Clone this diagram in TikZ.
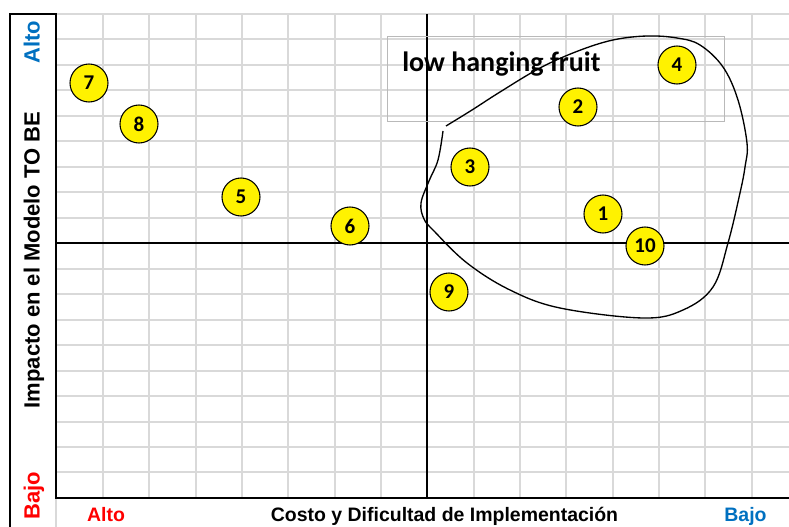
\documentclass[tikz,border=0pt]{standalone}
\usepackage{fontspec}
\setmainfont{Liberation Sans}
\newfontfamily\calib{Carlito}
\definecolor{excelblue}{RGB}{0,112,192}
\definecolor{gridgray}{RGB}{217,217,217}

\begin{document}
\begin{tikzpicture}[
    x=0.75pt, y=-0.75pt,
    item node/.style={circle, draw=black, fill=yellow, line width=0.8pt, inner sep=0pt, minimum size=28.5pt, font=\calib\bfseries\fontsize{15.75}{16}\selectfont},
    grid line/.style={line width=1.5pt, draw=gridgray},
    axis line/.style={line width=1.5pt, draw=black},
    frame line/.style={line width=2pt, draw=black},
    side label/.style={font=\bfseries\fontsize{16.5}{18}\selectfont, rotate=90, anchor=base, inner sep=0pt},
    foot label/.style={font=\bfseries\fontsize{14.6}{16}\selectfont, anchor=base, inner sep=0pt}
]
\useasboundingbox (0,0) rectangle (789,527);

% 网格
\foreach \k in {0,...,14} \draw[grid line] ({103+46.34*\k},14) -- ({103+46.34*\k},498);
\foreach \k in {0,...,19} \draw[grid line] (56,{14+25.47*\k}) -- (789,{14+25.47*\k});
\draw[gridgray, line width=0.8pt] (56,498) -- (56,527);

% 坐标轴与边框
\draw[axis line] (427.4,14) -- (427.4,498);
\draw[axis line] (56,243.3) -- (789,243.3);
\draw[frame line] (10,527) -- (10,14) -- (56,14) -- (56,498) -- (789,498);

% 低垂果实区域
\draw[gray!55, line width=0.75pt] (387,37) rectangle (724,122);
\node[anchor=base west, inner sep=0pt, font=\calib\bfseries\fontsize{21}{22}\selectfont] (fruit) at (402,72) {low hanging fruit};
\draw[line width=1pt] plot[smooth, tension=0.6] coordinates {
    (443,131) (438,160) (429,181) (421,203) (424,219) (434,231) (467,263) (510,290)
    (560,308) (643,318) (683,310) (713,287) (728,243) (740,193) (745,167) (747,143)
    (738,100) (723,67) (700,45) (677,38) (647,36) (613,40) (578,51) (540,68) (500,92)
    (472,110) (446,126)};

% 项目
\node[item node] (P1)  at (603,214) {1};
\node[item node] (P2)  at (578,107) {2};
\node[item node] (P3)  at (470,167) {3};
\node[item node] (P4)  at (677,65)  {4};
\node[item node] (P5)  at (241,197) {5};
\node[item node] (P6)  at (350,226) {6};
\node[item node] (P7)  at (89,83)   {7};
\node[item node] (P8)  at (139,124) {8};
\node[item node] (P9)  at (449,292) {9};
\node[item node] (P10) at (645,246) {10};

% 轴标签
\node[side label, excelblue] (yhigh) at (39.5,42) {Alto};
\node[side label] (ytitle) at (39.5,260) {Impacto en el Modelo TO BE};
\node[side label, red] (ylow) at (39.5,496) {Bajo};
\node[foot label, red] (xhigh) at (106,521.5) {Alto};
\node[foot label] (xtitle) at (444.5,521.5) {Costo y Dificultad de Implementación};
\node[foot label, excelblue] (xlow) at (745.5,521.5) {Bajo};

\end{tikzpicture}
\end{document}
